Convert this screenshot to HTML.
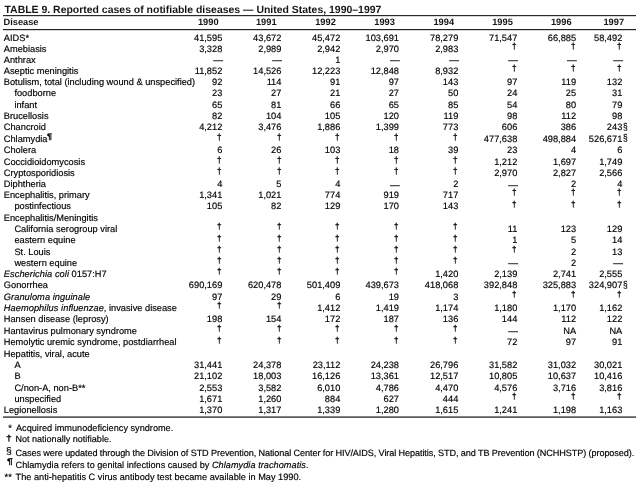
<!DOCTYPE html>
<html><head><meta charset="utf-8"><title>TABLE 9</title>
<style>
html,body{margin:0;padding:0;background:#fff;}
body{width:640px;height:485px;position:relative;overflow:hidden;font-family:"Liberation Sans",sans-serif;font-size:9.25px;color:#000;-webkit-text-stroke:0.17px #000;text-rendering:geometricPrecision;}
#pg{position:absolute;left:0;top:0;width:640px;height:485px;filter:blur(0.3px);}
.t{position:absolute;white-space:nowrap;}
.n{position:absolute;white-space:nowrap;text-align:right;}
.hl{position:absolute;left:3.4px;width:632.2px;background:#222;}
.g{position:absolute;white-space:nowrap;font-size:10px;line-height:11px;height:11px;transform-origin:0 0;-webkit-text-stroke:0.35px #000;}
.s{-webkit-text-stroke:0.15px #000;}
.d{-webkit-text-stroke:0.4px #333;color:#333;}
i{letter-spacing:0.06px}
</style></head><body><div id="pg">

<div class="t" id="title" style="left:4.50px;top:4.00px;line-height:13px;height:13px;font-size:10.46px;font-weight:bold;-webkit-text-stroke:0;color:#151515;">TABLE 9. Reported cases of notifiable diseases — United States, 1990–1997</div>
<div class="hl" style="top:15px;height:1px;opacity:0.97"></div><div class="hl" style="top:16px;height:1px;opacity:0.18"></div>
<div class="hl" style="top:29px;height:1px;opacity:1.00"></div><div class="hl" style="top:30px;height:1px;opacity:0.20"></div>
<div class="hl" style="top:416px;height:1px;opacity:0.55"></div><div class="hl" style="top:417px;height:1px;opacity:0.75"></div>
<div class="t" id="hd" style="left:3.50px;top:16.00px;line-height:12px;height:12px;font-weight:bold;-webkit-text-stroke:0;color:#151515;">Disease</div>
<div class="n" style="left:178.55px;top:16.00px;line-height:12px;height:12px;width:40.00px;font-weight:bold;-webkit-text-stroke:0;color:#151515;">1990</div>
<div class="n" style="left:236.55px;top:16.00px;line-height:12px;height:12px;width:40.00px;font-weight:bold;-webkit-text-stroke:0;color:#151515;">1991</div>
<div class="n" style="left:295.80px;top:16.00px;line-height:12px;height:12px;width:40.00px;font-weight:bold;-webkit-text-stroke:0;color:#151515;">1992</div>
<div class="n" style="left:354.90px;top:16.00px;line-height:12px;height:12px;width:40.00px;font-weight:bold;-webkit-text-stroke:0;color:#151515;">1993</div>
<div class="n" style="left:414.05px;top:16.00px;line-height:12px;height:12px;width:40.00px;font-weight:bold;-webkit-text-stroke:0;color:#151515;">1994</div>
<div class="n" style="left:472.80px;top:16.00px;line-height:12px;height:12px;width:40.00px;font-weight:bold;-webkit-text-stroke:0;color:#151515;">1995</div>
<div class="n" style="left:531.55px;top:16.00px;line-height:12px;height:12px;width:40.00px;font-weight:bold;-webkit-text-stroke:0;color:#151515;">1996</div>
<div class="n" style="left:584.05px;top:16.00px;line-height:12px;height:12px;width:40.00px;font-weight:bold;-webkit-text-stroke:0;color:#151515;">1997</div>
<div class="t" id="r0" style="left:3.80px;top:32.00px;line-height:12px;height:12px;">AIDS*</div>
<div class="n" style="left:162.30px;top:32.00px;line-height:12px;height:12px;width:60.00px;">41,595</div>
<div class="n" style="left:221.40px;top:32.00px;line-height:12px;height:12px;width:60.00px;">43,672</div>
<div class="n" style="left:280.30px;top:32.00px;line-height:12px;height:12px;width:60.00px;">45,472</div>
<div class="n" style="left:339.00px;top:32.00px;line-height:12px;height:12px;width:60.00px;">103,691</div>
<div class="n" style="left:398.30px;top:32.00px;line-height:12px;height:12px;width:60.00px;">78,279</div>
<div class="n" style="left:457.30px;top:32.00px;line-height:12px;height:12px;width:60.00px;">71,547</div>
<div class="n" style="left:516.10px;top:32.00px;line-height:12px;height:12px;width:60.00px;">66,885</div>
<div class="n" style="left:562.30px;top:32.00px;line-height:12px;height:12px;width:60.00px;">58,492</div>
<div class="t" id="r1" style="left:3.80px;top:43.00px;line-height:12px;height:12px;">Amebiasis</div>
<div class="n" style="left:162.30px;top:43.00px;line-height:12px;height:12px;width:60.00px;">3,328</div>
<div class="n" style="left:221.40px;top:43.00px;line-height:12px;height:12px;width:60.00px;">2,989</div>
<div class="n" style="left:280.30px;top:43.00px;line-height:12px;height:12px;width:60.00px;">2,942</div>
<div class="n" style="left:339.00px;top:43.00px;line-height:12px;height:12px;width:60.00px;">2,970</div>
<div class="n" style="left:398.30px;top:43.00px;line-height:12px;height:12px;width:60.00px;">2,983</div>
<span class="g" style="left:512.43px;top:42px;transform:scale(0.810,0.873)">†</span>
<span class="g" style="left:571.23px;top:42px;transform:scale(0.810,0.873)">†</span>
<span class="g" style="left:617.43px;top:42px;transform:scale(0.810,0.873)">†</span>
<div class="t" id="r2" style="left:3.80px;top:54.00px;line-height:12px;height:12px;">Anthrax</div>
<div class="n" style="left:162.70px;top:54.00px;line-height:12px;height:12px;width:60.00px;-webkit-text-stroke:0.55px #444;color:#444;">—</div>
<div class="n" style="left:221.80px;top:54.00px;line-height:12px;height:12px;width:60.00px;-webkit-text-stroke:0.55px #444;color:#444;">—</div>
<div class="n" style="left:280.30px;top:54.00px;line-height:12px;height:12px;width:60.00px;">1</div>
<div class="n" style="left:339.40px;top:54.00px;line-height:12px;height:12px;width:60.00px;-webkit-text-stroke:0.55px #444;color:#444;">—</div>
<div class="n" style="left:398.70px;top:54.00px;line-height:12px;height:12px;width:60.00px;-webkit-text-stroke:0.55px #444;color:#444;">—</div>
<div class="n" style="left:457.70px;top:54.00px;line-height:12px;height:12px;width:60.00px;-webkit-text-stroke:0.55px #444;color:#444;">—</div>
<div class="n" style="left:516.50px;top:54.00px;line-height:12px;height:12px;width:60.00px;-webkit-text-stroke:0.55px #444;color:#444;">—</div>
<div class="n" style="left:562.70px;top:54.00px;line-height:12px;height:12px;width:60.00px;-webkit-text-stroke:0.55px #444;color:#444;">—</div>
<div class="t" id="r3" style="left:3.80px;top:65.00px;line-height:12px;height:12px;">Aseptic meningitis</div>
<div class="n" style="left:162.30px;top:65.00px;line-height:12px;height:12px;width:60.00px;">11,852</div>
<div class="n" style="left:221.40px;top:65.00px;line-height:12px;height:12px;width:60.00px;">14,526</div>
<div class="n" style="left:280.30px;top:65.00px;line-height:12px;height:12px;width:60.00px;">12,223</div>
<div class="n" style="left:339.00px;top:65.00px;line-height:12px;height:12px;width:60.00px;">12,848</div>
<div class="n" style="left:398.30px;top:65.00px;line-height:12px;height:12px;width:60.00px;">8,932</div>
<span class="g" style="left:512.43px;top:64px;transform:scale(0.810,0.873)">†</span>
<span class="g" style="left:571.23px;top:64px;transform:scale(0.810,0.873)">†</span>
<span class="g" style="left:617.43px;top:64px;transform:scale(0.810,0.873)">†</span>
<div class="t" id="r4" style="left:3.80px;top:76.00px;line-height:12px;height:12px;">Botulism, total (including wound &amp; unspecified)</div>
<div class="n" style="left:162.30px;top:76.00px;line-height:12px;height:12px;width:60.00px;">92</div>
<div class="n" style="left:221.40px;top:76.00px;line-height:12px;height:12px;width:60.00px;">114</div>
<div class="n" style="left:280.30px;top:76.00px;line-height:12px;height:12px;width:60.00px;">91</div>
<div class="n" style="left:339.00px;top:76.00px;line-height:12px;height:12px;width:60.00px;">97</div>
<div class="n" style="left:398.30px;top:76.00px;line-height:12px;height:12px;width:60.00px;">143</div>
<div class="n" style="left:457.30px;top:76.00px;line-height:12px;height:12px;width:60.00px;">97</div>
<div class="n" style="left:516.10px;top:76.00px;line-height:12px;height:12px;width:60.00px;">119</div>
<div class="n" style="left:562.30px;top:76.00px;line-height:12px;height:12px;width:60.00px;">132</div>
<div class="t" id="r5" style="left:14.40px;top:87.00px;line-height:12px;height:12px;">foodborne</div>
<div class="n" style="left:162.30px;top:87.00px;line-height:12px;height:12px;width:60.00px;">23</div>
<div class="n" style="left:221.40px;top:87.00px;line-height:12px;height:12px;width:60.00px;">27</div>
<div class="n" style="left:280.30px;top:87.00px;line-height:12px;height:12px;width:60.00px;">21</div>
<div class="n" style="left:339.00px;top:87.00px;line-height:12px;height:12px;width:60.00px;">27</div>
<div class="n" style="left:398.30px;top:87.00px;line-height:12px;height:12px;width:60.00px;">50</div>
<div class="n" style="left:457.30px;top:87.00px;line-height:12px;height:12px;width:60.00px;">24</div>
<div class="n" style="left:516.10px;top:87.00px;line-height:12px;height:12px;width:60.00px;">25</div>
<div class="n" style="left:562.30px;top:87.00px;line-height:12px;height:12px;width:60.00px;">31</div>
<div class="t" id="r6" style="left:14.40px;top:99.00px;line-height:12px;height:12px;">infant</div>
<div class="n" style="left:162.30px;top:99.00px;line-height:12px;height:12px;width:60.00px;">65</div>
<div class="n" style="left:221.40px;top:99.00px;line-height:12px;height:12px;width:60.00px;">81</div>
<div class="n" style="left:280.30px;top:99.00px;line-height:12px;height:12px;width:60.00px;">66</div>
<div class="n" style="left:339.00px;top:99.00px;line-height:12px;height:12px;width:60.00px;">65</div>
<div class="n" style="left:398.30px;top:99.00px;line-height:12px;height:12px;width:60.00px;">85</div>
<div class="n" style="left:457.30px;top:99.00px;line-height:12px;height:12px;width:60.00px;">54</div>
<div class="n" style="left:516.10px;top:99.00px;line-height:12px;height:12px;width:60.00px;">80</div>
<div class="n" style="left:562.30px;top:99.00px;line-height:12px;height:12px;width:60.00px;">79</div>
<div class="t" id="r7" style="left:3.80px;top:110.00px;line-height:12px;height:12px;">Brucellosis</div>
<div class="n" style="left:162.30px;top:110.00px;line-height:12px;height:12px;width:60.00px;">82</div>
<div class="n" style="left:221.40px;top:110.00px;line-height:12px;height:12px;width:60.00px;">104</div>
<div class="n" style="left:280.30px;top:110.00px;line-height:12px;height:12px;width:60.00px;">105</div>
<div class="n" style="left:339.00px;top:110.00px;line-height:12px;height:12px;width:60.00px;">120</div>
<div class="n" style="left:398.30px;top:110.00px;line-height:12px;height:12px;width:60.00px;">119</div>
<div class="n" style="left:457.30px;top:110.00px;line-height:12px;height:12px;width:60.00px;">98</div>
<div class="n" style="left:516.10px;top:110.00px;line-height:12px;height:12px;width:60.00px;">112</div>
<div class="n" style="left:562.30px;top:110.00px;line-height:12px;height:12px;width:60.00px;">98</div>
<div class="t" id="r8" style="left:3.80px;top:121.00px;line-height:12px;height:12px;">Chancroid</div>
<div class="n" style="left:162.30px;top:121.00px;line-height:12px;height:12px;width:60.00px;">4,212</div>
<div class="n" style="left:221.40px;top:121.00px;line-height:12px;height:12px;width:60.00px;">3,476</div>
<div class="n" style="left:280.30px;top:121.00px;line-height:12px;height:12px;width:60.00px;">1,886</div>
<div class="n" style="left:339.00px;top:121.00px;line-height:12px;height:12px;width:60.00px;">1,399</div>
<div class="n" style="left:398.30px;top:121.00px;line-height:12px;height:12px;width:60.00px;">773</div>
<div class="n" style="left:457.30px;top:121.00px;line-height:12px;height:12px;width:60.00px;">606</div>
<div class="n" style="left:516.10px;top:121.00px;line-height:12px;height:12px;width:60.00px;">386</div>
<div class="n" style="left:562.30px;top:121.00px;line-height:12px;height:12px;width:60.00px;">243</div>
<span class="g s" style="left:622.50px;top:122px;transform:scale(0.841,1.000)">§</span>
<div class="t" id="r9" style="left:3.80px;top:133.00px;line-height:12px;height:12px;">Chlamydia</div>
<span class="g" style="left:217.43px;top:133px;transform:scale(0.810,0.861)">†</span>
<span class="g" style="left:276.53px;top:133px;transform:scale(0.810,0.861)">†</span>
<span class="g" style="left:335.43px;top:133px;transform:scale(0.810,0.861)">†</span>
<span class="g" style="left:394.13px;top:133px;transform:scale(0.810,0.861)">†</span>
<span class="g" style="left:453.43px;top:133px;transform:scale(0.810,0.861)">†</span>
<div class="n" style="left:457.30px;top:133.00px;line-height:12px;height:12px;width:60.00px;">477,638</div>
<div class="n" style="left:516.10px;top:133.00px;line-height:12px;height:12px;width:60.00px;">498,884</div>
<div class="n" style="left:562.30px;top:133.00px;line-height:12px;height:12px;width:60.00px;">526,671</div>
<span class="g s" style="left:622.50px;top:133px;transform:scale(0.841,1.000)">§</span>
<div class="t" id="r10" style="left:3.80px;top:144.00px;line-height:12px;height:12px;">Cholera</div>
<div class="n" style="left:162.30px;top:144.00px;line-height:12px;height:12px;width:60.00px;">6</div>
<div class="n" style="left:221.40px;top:144.00px;line-height:12px;height:12px;width:60.00px;">26</div>
<div class="n" style="left:280.30px;top:144.00px;line-height:12px;height:12px;width:60.00px;">103</div>
<div class="n" style="left:339.00px;top:144.00px;line-height:12px;height:12px;width:60.00px;">18</div>
<div class="n" style="left:398.30px;top:144.00px;line-height:12px;height:12px;width:60.00px;">39</div>
<div class="n" style="left:457.30px;top:144.00px;line-height:12px;height:12px;width:60.00px;">23</div>
<div class="n" style="left:516.10px;top:144.00px;line-height:12px;height:12px;width:60.00px;">4</div>
<div class="n" style="left:562.30px;top:144.00px;line-height:12px;height:12px;width:60.00px;">6</div>
<div class="t" id="r11" style="left:3.80px;top:156.00px;line-height:12px;height:12px;">Coccidioidomycosis</div>
<span class="g" style="left:217.43px;top:156px;transform:scale(0.810,0.861)">†</span>
<span class="g" style="left:276.53px;top:156px;transform:scale(0.810,0.861)">†</span>
<span class="g" style="left:335.43px;top:156px;transform:scale(0.810,0.861)">†</span>
<span class="g" style="left:394.13px;top:156px;transform:scale(0.810,0.861)">†</span>
<span class="g" style="left:453.43px;top:156px;transform:scale(0.810,0.861)">†</span>
<div class="n" style="left:457.30px;top:156.00px;line-height:12px;height:12px;width:60.00px;">1,212</div>
<div class="n" style="left:516.10px;top:156.00px;line-height:12px;height:12px;width:60.00px;">1,697</div>
<div class="n" style="left:562.30px;top:156.00px;line-height:12px;height:12px;width:60.00px;">1,749</div>
<div class="t" id="r12" style="left:3.80px;top:167.00px;line-height:12px;height:12px;">Cryptosporidiosis</div>
<span class="g" style="left:217.43px;top:167px;transform:scale(0.810,0.861)">†</span>
<span class="g" style="left:276.53px;top:167px;transform:scale(0.810,0.861)">†</span>
<span class="g" style="left:335.43px;top:167px;transform:scale(0.810,0.861)">†</span>
<span class="g" style="left:394.13px;top:167px;transform:scale(0.810,0.861)">†</span>
<span class="g" style="left:453.43px;top:167px;transform:scale(0.810,0.861)">†</span>
<div class="n" style="left:457.30px;top:167.00px;line-height:12px;height:12px;width:60.00px;">2,970</div>
<div class="n" style="left:516.10px;top:167.00px;line-height:12px;height:12px;width:60.00px;">2,827</div>
<div class="n" style="left:562.30px;top:167.00px;line-height:12px;height:12px;width:60.00px;">2,566</div>
<div class="t" id="r13" style="left:3.80px;top:178.00px;line-height:12px;height:12px;">Diphtheria</div>
<div class="n" style="left:162.30px;top:178.00px;line-height:12px;height:12px;width:60.00px;">4</div>
<div class="n" style="left:221.40px;top:178.00px;line-height:12px;height:12px;width:60.00px;">5</div>
<div class="n" style="left:280.30px;top:178.00px;line-height:12px;height:12px;width:60.00px;">4</div>
<div class="n" style="left:339.40px;top:179.00px;line-height:12px;height:12px;width:60.00px;-webkit-text-stroke:0.55px #444;color:#444;">—</div>
<div class="n" style="left:398.30px;top:178.00px;line-height:12px;height:12px;width:60.00px;">2</div>
<div class="n" style="left:457.70px;top:179.00px;line-height:12px;height:12px;width:60.00px;-webkit-text-stroke:0.55px #444;color:#444;">—</div>
<div class="n" style="left:516.10px;top:178.00px;line-height:12px;height:12px;width:60.00px;">2</div>
<div class="n" style="left:562.30px;top:178.00px;line-height:12px;height:12px;width:60.00px;">4</div>
<div class="t" id="r14" style="left:3.80px;top:189.00px;line-height:12px;height:12px;">Encephalitis, primary</div>
<div class="n" style="left:162.30px;top:189.00px;line-height:12px;height:12px;width:60.00px;">1,341</div>
<div class="n" style="left:221.40px;top:189.00px;line-height:12px;height:12px;width:60.00px;">1,021</div>
<div class="n" style="left:280.30px;top:189.00px;line-height:12px;height:12px;width:60.00px;">774</div>
<div class="n" style="left:339.00px;top:189.00px;line-height:12px;height:12px;width:60.00px;">919</div>
<div class="n" style="left:398.30px;top:189.00px;line-height:12px;height:12px;width:60.00px;">717</div>
<span class="g" style="left:512.43px;top:188px;transform:scale(0.810,0.873)">†</span>
<span class="g" style="left:571.23px;top:188px;transform:scale(0.810,0.873)">†</span>
<span class="g" style="left:617.43px;top:188px;transform:scale(0.810,0.873)">†</span>
<div class="t" id="r15" style="left:14.40px;top:200.00px;line-height:12px;height:12px;">postinfectious</div>
<div class="n" style="left:162.30px;top:200.00px;line-height:12px;height:12px;width:60.00px;">105</div>
<div class="n" style="left:221.40px;top:200.00px;line-height:12px;height:12px;width:60.00px;">82</div>
<div class="n" style="left:280.30px;top:200.00px;line-height:12px;height:12px;width:60.00px;">129</div>
<div class="n" style="left:339.00px;top:200.00px;line-height:12px;height:12px;width:60.00px;">170</div>
<div class="n" style="left:398.30px;top:200.00px;line-height:12px;height:12px;width:60.00px;">143</div>
<span class="g" style="left:512.43px;top:200px;transform:scale(0.810,0.835)">†</span>
<span class="g" style="left:571.23px;top:200px;transform:scale(0.810,0.835)">†</span>
<span class="g" style="left:617.43px;top:200px;transform:scale(0.810,0.835)">†</span>
<div class="t" id="r16" style="left:3.80px;top:212.00px;line-height:12px;height:12px;">Encephalitis/Meningitis</div>
<div class="t" id="r17" style="left:14.40px;top:223.00px;line-height:12px;height:12px;">California serogroup viral</div>
<span class="g" style="left:217.43px;top:222px;transform:scale(0.810,0.835)">†</span>
<span class="g" style="left:276.53px;top:222px;transform:scale(0.810,0.835)">†</span>
<span class="g" style="left:335.43px;top:222px;transform:scale(0.810,0.835)">†</span>
<span class="g" style="left:394.13px;top:222px;transform:scale(0.810,0.835)">†</span>
<span class="g" style="left:453.43px;top:222px;transform:scale(0.810,0.835)">†</span>
<div class="n" style="left:457.30px;top:223.00px;line-height:12px;height:12px;width:60.00px;">11</div>
<div class="n" style="left:516.10px;top:223.00px;line-height:12px;height:12px;width:60.00px;">123</div>
<div class="n" style="left:562.30px;top:223.00px;line-height:12px;height:12px;width:60.00px;">129</div>
<div class="t" id="r18" style="left:14.40px;top:234.00px;line-height:12px;height:12px;">eastern equine</div>
<span class="g" style="left:217.43px;top:234px;transform:scale(0.810,0.835)">†</span>
<span class="g" style="left:276.53px;top:234px;transform:scale(0.810,0.835)">†</span>
<span class="g" style="left:335.43px;top:234px;transform:scale(0.810,0.835)">†</span>
<span class="g" style="left:394.13px;top:234px;transform:scale(0.810,0.835)">†</span>
<span class="g" style="left:453.43px;top:234px;transform:scale(0.810,0.835)">†</span>
<div class="n" style="left:457.30px;top:234.00px;line-height:12px;height:12px;width:60.00px;">1</div>
<div class="n" style="left:516.10px;top:234.00px;line-height:12px;height:12px;width:60.00px;">5</div>
<div class="n" style="left:562.30px;top:234.00px;line-height:12px;height:12px;width:60.00px;">14</div>
<div class="t" id="r19" style="left:14.40px;top:246.00px;line-height:12px;height:12px;">St. Louis</div>
<span class="g" style="left:217.43px;top:245px;transform:scale(0.810,0.835)">†</span>
<span class="g" style="left:276.53px;top:245px;transform:scale(0.810,0.835)">†</span>
<span class="g" style="left:335.43px;top:245px;transform:scale(0.810,0.835)">†</span>
<span class="g" style="left:394.13px;top:245px;transform:scale(0.810,0.835)">†</span>
<span class="g" style="left:453.43px;top:245px;transform:scale(0.810,0.835)">†</span>
<span class="g" style="left:512.43px;top:245px;transform:scale(0.810,0.835)">†</span>
<div class="n" style="left:516.10px;top:246.00px;line-height:12px;height:12px;width:60.00px;">2</div>
<div class="n" style="left:562.30px;top:246.00px;line-height:12px;height:12px;width:60.00px;">13</div>
<div class="t" id="r20" style="left:14.40px;top:257.00px;line-height:12px;height:12px;">western equine</div>
<span class="g" style="left:217.43px;top:256px;transform:scale(0.810,0.835)">†</span>
<span class="g" style="left:276.53px;top:256px;transform:scale(0.810,0.835)">†</span>
<span class="g" style="left:335.43px;top:256px;transform:scale(0.810,0.835)">†</span>
<span class="g" style="left:394.13px;top:256px;transform:scale(0.810,0.835)">†</span>
<span class="g" style="left:453.43px;top:256px;transform:scale(0.810,0.835)">†</span>
<div class="n" style="left:457.70px;top:257.00px;line-height:12px;height:12px;width:60.00px;-webkit-text-stroke:0.55px #444;color:#444;">—</div>
<div class="n" style="left:516.10px;top:257.00px;line-height:12px;height:12px;width:60.00px;">2</div>
<div class="n" style="left:562.70px;top:257.00px;line-height:12px;height:12px;width:60.00px;-webkit-text-stroke:0.55px #444;color:#444;">—</div>
<div class="t" id="r21" style="left:3.80px;top:268.00px;line-height:12px;height:12px;"><i>Escherichia coli</i> 0157:H7</div>
<span class="g" style="left:217.43px;top:267px;transform:scale(0.810,0.835)">†</span>
<span class="g" style="left:276.53px;top:267px;transform:scale(0.810,0.835)">†</span>
<span class="g" style="left:335.43px;top:267px;transform:scale(0.810,0.835)">†</span>
<span class="g" style="left:394.13px;top:267px;transform:scale(0.810,0.835)">†</span>
<div class="n" style="left:398.30px;top:268.00px;line-height:12px;height:12px;width:60.00px;">1,420</div>
<div class="n" style="left:457.30px;top:268.00px;line-height:12px;height:12px;width:60.00px;">2,139</div>
<div class="n" style="left:516.10px;top:268.00px;line-height:12px;height:12px;width:60.00px;">2,741</div>
<div class="n" style="left:562.30px;top:268.00px;line-height:12px;height:12px;width:60.00px;">2,555</div>
<div class="t" id="r22" style="left:3.80px;top:279.00px;line-height:12px;height:12px;">Gonorrhea</div>
<div class="n" style="left:162.30px;top:279.00px;line-height:12px;height:12px;width:60.00px;">690,169</div>
<div class="n" style="left:221.40px;top:279.00px;line-height:12px;height:12px;width:60.00px;">620,478</div>
<div class="n" style="left:280.30px;top:279.00px;line-height:12px;height:12px;width:60.00px;">501,409</div>
<div class="n" style="left:339.00px;top:279.00px;line-height:12px;height:12px;width:60.00px;">439,673</div>
<div class="n" style="left:398.30px;top:279.00px;line-height:12px;height:12px;width:60.00px;">418,068</div>
<div class="n" style="left:457.30px;top:279.00px;line-height:12px;height:12px;width:60.00px;">392,848</div>
<div class="n" style="left:516.10px;top:279.00px;line-height:12px;height:12px;width:60.00px;">325,883</div>
<div class="n" style="left:562.30px;top:279.00px;line-height:12px;height:12px;width:60.00px;">324,907</div>
<span class="g s" style="left:622.50px;top:280px;transform:scale(0.841,1.000)">§</span>
<div class="t" id="r23" style="left:3.80px;top:291.00px;line-height:12px;height:12px;"><i>Granuloma inguinale</i></div>
<div class="n" style="left:162.30px;top:291.00px;line-height:12px;height:12px;width:60.00px;">97</div>
<div class="n" style="left:221.40px;top:291.00px;line-height:12px;height:12px;width:60.00px;">29</div>
<div class="n" style="left:280.30px;top:291.00px;line-height:12px;height:12px;width:60.00px;">6</div>
<div class="n" style="left:339.00px;top:291.00px;line-height:12px;height:12px;width:60.00px;">19</div>
<div class="n" style="left:398.30px;top:291.00px;line-height:12px;height:12px;width:60.00px;">3</div>
<span class="g" style="left:512.43px;top:290px;transform:scale(0.810,0.835)">†</span>
<span class="g" style="left:571.23px;top:290px;transform:scale(0.810,0.835)">†</span>
<span class="g" style="left:617.43px;top:290px;transform:scale(0.810,0.835)">†</span>
<div class="t" id="r24" style="left:3.80px;top:302.00px;line-height:12px;height:12px;"><i>Haemophilus influenzae</i>, invasive disease</div>
<span class="g" style="left:217.43px;top:301px;transform:scale(0.810,0.835)">†</span>
<span class="g" style="left:276.53px;top:301px;transform:scale(0.810,0.835)">†</span>
<div class="n" style="left:280.30px;top:302.00px;line-height:12px;height:12px;width:60.00px;">1,412</div>
<div class="n" style="left:339.00px;top:302.00px;line-height:12px;height:12px;width:60.00px;">1,419</div>
<div class="n" style="left:398.30px;top:302.00px;line-height:12px;height:12px;width:60.00px;">1,174</div>
<div class="n" style="left:457.30px;top:302.00px;line-height:12px;height:12px;width:60.00px;">1,180</div>
<div class="n" style="left:516.10px;top:302.00px;line-height:12px;height:12px;width:60.00px;">1,170</div>
<div class="n" style="left:562.30px;top:302.00px;line-height:12px;height:12px;width:60.00px;">1,162</div>
<div class="t" id="r25" style="left:3.80px;top:313.00px;line-height:12px;height:12px;">Hansen disease (leprosy)</div>
<div class="n" style="left:162.30px;top:313.00px;line-height:12px;height:12px;width:60.00px;">198</div>
<div class="n" style="left:221.40px;top:313.00px;line-height:12px;height:12px;width:60.00px;">154</div>
<div class="n" style="left:280.30px;top:313.00px;line-height:12px;height:12px;width:60.00px;">172</div>
<div class="n" style="left:339.00px;top:313.00px;line-height:12px;height:12px;width:60.00px;">187</div>
<div class="n" style="left:398.30px;top:313.00px;line-height:12px;height:12px;width:60.00px;">136</div>
<div class="n" style="left:457.30px;top:313.00px;line-height:12px;height:12px;width:60.00px;">144</div>
<div class="n" style="left:516.10px;top:313.00px;line-height:12px;height:12px;width:60.00px;">112</div>
<div class="n" style="left:562.30px;top:313.00px;line-height:12px;height:12px;width:60.00px;">122</div>
<div class="t" id="r26" style="left:3.80px;top:325.00px;line-height:12px;height:12px;">Hantavirus pulmonary syndrome</div>
<span class="g" style="left:217.43px;top:324px;transform:scale(0.810,0.835)">†</span>
<span class="g" style="left:276.53px;top:324px;transform:scale(0.810,0.835)">†</span>
<span class="g" style="left:335.43px;top:324px;transform:scale(0.810,0.835)">†</span>
<span class="g" style="left:394.13px;top:324px;transform:scale(0.810,0.835)">†</span>
<span class="g" style="left:453.43px;top:324px;transform:scale(0.810,0.835)">†</span>
<div class="n" style="left:457.70px;top:325.00px;line-height:12px;height:12px;width:60.00px;-webkit-text-stroke:0.55px #444;color:#444;">—</div>
<div class="n" style="left:516.10px;top:325.00px;line-height:12px;height:12px;width:60.00px;">NA</div>
<div class="n" style="left:562.30px;top:325.00px;line-height:12px;height:12px;width:60.00px;">NA</div>
<div class="t" id="r27" style="left:3.80px;top:336.00px;line-height:12px;height:12px;">Hemolytic uremic syndrome, postdiarrheal</div>
<span class="g" style="left:217.43px;top:336px;transform:scale(0.810,0.835)">†</span>
<span class="g" style="left:276.53px;top:336px;transform:scale(0.810,0.835)">†</span>
<span class="g" style="left:335.43px;top:336px;transform:scale(0.810,0.835)">†</span>
<span class="g" style="left:394.13px;top:336px;transform:scale(0.810,0.835)">†</span>
<span class="g" style="left:453.43px;top:336px;transform:scale(0.810,0.835)">†</span>
<div class="n" style="left:457.30px;top:336.00px;line-height:12px;height:12px;width:60.00px;">72</div>
<div class="n" style="left:516.10px;top:336.00px;line-height:12px;height:12px;width:60.00px;">97</div>
<div class="n" style="left:562.30px;top:336.00px;line-height:12px;height:12px;width:60.00px;">91</div>
<div class="t" id="r28" style="left:3.80px;top:348.00px;line-height:12px;height:12px;">Hepatitis, viral, acute</div>
<div class="t" id="r29" style="left:14.40px;top:359.00px;line-height:12px;height:12px;">A</div>
<div class="n" style="left:162.30px;top:359.00px;line-height:12px;height:12px;width:60.00px;">31,441</div>
<div class="n" style="left:221.40px;top:359.00px;line-height:12px;height:12px;width:60.00px;">24,378</div>
<div class="n" style="left:280.30px;top:359.00px;line-height:12px;height:12px;width:60.00px;">23,112</div>
<div class="n" style="left:339.00px;top:359.00px;line-height:12px;height:12px;width:60.00px;">24,238</div>
<div class="n" style="left:398.30px;top:359.00px;line-height:12px;height:12px;width:60.00px;">26,796</div>
<div class="n" style="left:457.30px;top:359.00px;line-height:12px;height:12px;width:60.00px;">31,582</div>
<div class="n" style="left:516.10px;top:359.00px;line-height:12px;height:12px;width:60.00px;">31,032</div>
<div class="n" style="left:562.30px;top:359.00px;line-height:12px;height:12px;width:60.00px;">30,021</div>
<div class="t" id="r30" style="left:14.40px;top:370.00px;line-height:12px;height:12px;">B</div>
<div class="n" style="left:162.30px;top:370.00px;line-height:12px;height:12px;width:60.00px;">21,102</div>
<div class="n" style="left:221.40px;top:370.00px;line-height:12px;height:12px;width:60.00px;">18,003</div>
<div class="n" style="left:280.30px;top:370.00px;line-height:12px;height:12px;width:60.00px;">16,126</div>
<div class="n" style="left:339.00px;top:370.00px;line-height:12px;height:12px;width:60.00px;">13,361</div>
<div class="n" style="left:398.30px;top:370.00px;line-height:12px;height:12px;width:60.00px;">12,517</div>
<div class="n" style="left:457.30px;top:370.00px;line-height:12px;height:12px;width:60.00px;">10,805</div>
<div class="n" style="left:516.10px;top:370.00px;line-height:12px;height:12px;width:60.00px;">10,637</div>
<div class="n" style="left:562.30px;top:370.00px;line-height:12px;height:12px;width:60.00px;">10,416</div>
<div class="t" id="r31" style="left:14.40px;top:382.00px;line-height:12px;height:12px;">C/non-A, non-B**</div>
<div class="n" style="left:162.30px;top:382.00px;line-height:12px;height:12px;width:60.00px;">2,553</div>
<div class="n" style="left:221.40px;top:382.00px;line-height:12px;height:12px;width:60.00px;">3,582</div>
<div class="n" style="left:280.30px;top:382.00px;line-height:12px;height:12px;width:60.00px;">6,010</div>
<div class="n" style="left:339.00px;top:382.00px;line-height:12px;height:12px;width:60.00px;">4,786</div>
<div class="n" style="left:398.30px;top:382.00px;line-height:12px;height:12px;width:60.00px;">4,470</div>
<div class="n" style="left:457.30px;top:382.00px;line-height:12px;height:12px;width:60.00px;">4,576</div>
<div class="n" style="left:516.10px;top:382.00px;line-height:12px;height:12px;width:60.00px;">3,716</div>
<div class="n" style="left:562.30px;top:382.00px;line-height:12px;height:12px;width:60.00px;">3,816</div>
<div class="t" id="r32" style="left:14.40px;top:393.00px;line-height:12px;height:12px;">unspecified</div>
<div class="n" style="left:162.30px;top:393.00px;line-height:12px;height:12px;width:60.00px;">1,671</div>
<div class="n" style="left:221.40px;top:393.00px;line-height:12px;height:12px;width:60.00px;">1,260</div>
<div class="n" style="left:280.30px;top:393.00px;line-height:12px;height:12px;width:60.00px;">884</div>
<div class="n" style="left:339.00px;top:393.00px;line-height:12px;height:12px;width:60.00px;">627</div>
<div class="n" style="left:398.30px;top:393.00px;line-height:12px;height:12px;width:60.00px;">444</div>
<span class="g" style="left:512.43px;top:392px;transform:scale(0.810,0.835)">†</span>
<span class="g" style="left:571.23px;top:392px;transform:scale(0.810,0.835)">†</span>
<span class="g" style="left:617.43px;top:392px;transform:scale(0.810,0.835)">†</span>
<div class="t" id="r33" style="left:3.80px;top:404.00px;line-height:12px;height:12px;">Legionellosis</div>
<div class="n" style="left:162.30px;top:404.00px;line-height:12px;height:12px;width:60.00px;">1,370</div>
<div class="n" style="left:221.40px;top:404.00px;line-height:12px;height:12px;width:60.00px;">1,317</div>
<div class="n" style="left:280.30px;top:404.00px;line-height:12px;height:12px;width:60.00px;">1,339</div>
<div class="n" style="left:339.00px;top:404.00px;line-height:12px;height:12px;width:60.00px;">1,280</div>
<div class="n" style="left:398.30px;top:404.00px;line-height:12px;height:12px;width:60.00px;">1,615</div>
<div class="n" style="left:457.30px;top:404.00px;line-height:12px;height:12px;width:60.00px;">1,241</div>
<div class="n" style="left:516.10px;top:404.00px;line-height:12px;height:12px;width:60.00px;">1,198</div>
<div class="n" style="left:562.30px;top:404.00px;line-height:12px;height:12px;width:60.00px;">1,163</div>
<div class="t" id="f0" style="left:16.00px;top:422.00px;line-height:12px;height:12px;font-size:9.16px;">Acquired immunodeficiency syndrome.</div>
<div class="t" id="f1" style="left:15.40px;top:433.00px;line-height:12px;height:12px;font-size:9.05px;">Not nationally notifiable.</div>
<div class="t" id="f2" style="left:15.60px;top:447.00px;line-height:12px;height:12px;font-size:9.15px;letter-spacing:-0.1px;word-spacing:-0.03px;">Cases were updated through the Division of STD Prevention, National Center for HIV/AIDS, Viral Hepatitis, STD, and TB Prevention (NCHHSTP) (proposed).</div>
<div class="t" id="f3" style="left:15.60px;top:459.00px;line-height:12px;height:12px;font-size:9.15px;">Chlamydia refers to genital infections caused by <i>Chlamydia trachomatis</i>.</div>
<div class="t" id="f4" style="left:15.60px;top:471.00px;line-height:12px;height:12px;font-size:9.20px;">The anti-hepatitis C virus antibody test became available in May 1990.</div>
<span class="g" style="left:47.22px;top:133px;transform:scale(0.956,0.805)">¶</span>
<div class="n" style="left:-18.25px;top:422.00px;line-height:12px;height:12px;width:30.00px;">*</div>
<span class="g" style="left:6.47px;top:434px;transform:scale(1.038,0.828)">†</span>
<span class="g s" style="left:6.38px;top:446px;transform:scale(1.036,0.963)">§</span>
<span class="g" style="left:6.56px;top:458px;transform:scale(1.089,0.800)">¶</span>
<div class="n" style="left:-18.25px;top:471.00px;line-height:12px;height:12px;width:30.00px;">**</div>
</div></body></html>
